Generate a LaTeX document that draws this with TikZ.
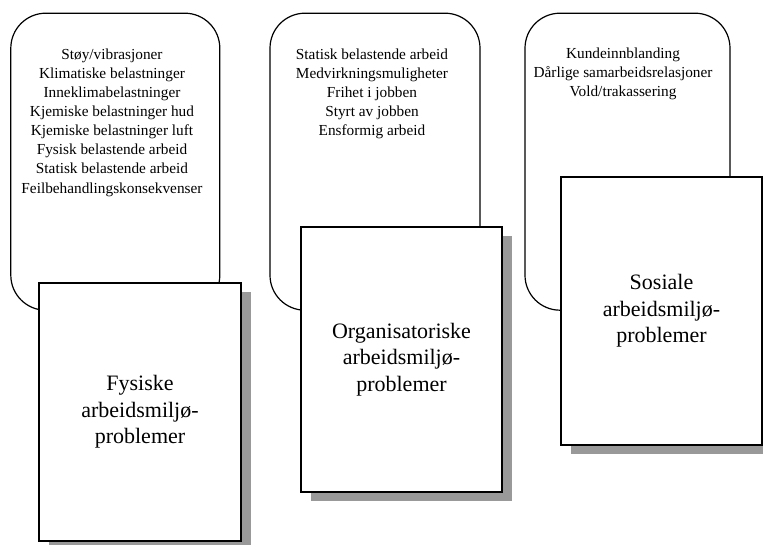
\documentclass[tikz,border=0pt]{standalone}
\usepackage{fontspec}
\setmainfont{Liberation Serif}
\usetikzlibrary{shadows}
\definecolor{shadowgray}{RGB}{153,153,153}
\begin{document}
\begin{tikzpicture}[x=1pt,y=-1pt,
  topicbox/.style={draw, line width=1.2pt, rounded corners=35pt, inner sep=0pt},
  factlist/.style={anchor=north, align=center, inner sep=0pt,
    font=\fontsize{15.3}{19.1}\selectfont},
  mainbox/.style={draw, line width=1.8pt, fill=white, align=center, inner sep=0pt,
    font=\fontsize{22}{26.5}\selectfont,
    drop shadow={shadow xshift=10pt, shadow yshift=-9pt, fill=shadowgray, opacity=1}}]
\useasboundingbox (0,0) rectangle (763,545);

% rounded boxes holding the factor lists
\node[topicbox, minimum width=209pt, minimum height=297pt] (fbox) at (115.3,161.7) {};
\node[topicbox, minimum width=210pt, minimum height=297pt] (obox) at (375,161.7) {};
\node[topicbox, minimum width=205pt, minimum height=297pt] (sbox) at (627.5,161.7) {};

\node[factlist] (flist) at (112,48.5) {Støy/vibrasjoner\\ Klimatiske belastninger\\ Inneklimabelastninger\\
  Kjemiske belastninger hud\\ Kjemiske belastninger luft\\ Fysisk belastende arbeid\\
  Statisk belastende arbeid\\ Feilbehandlingskonsekvenser};
\node[factlist] (olist) at (372,48.5) {Statisk belastende arbeid\\ Medvirkningsmuligheter\\
  Frihet i jobben\\ Styrt av jobben\\ Ensformig arbeid};
\node[factlist] (slist) at (623,47.5) {Kundeinnblanding\\ Dårlige samarbeidsrelasjoner\\ Vold/trakassering};

% main category boxes with drop shadows
\node[mainbox, minimum width=202pt, minimum height=258pt] (fys) at (140,412)
  {Fysiske\\ arbeidsmiljø-\\ problemer};
\node[mainbox, minimum width=201pt, minimum height=265pt] (org) at (401.5,359.5)
  {Organisatoriske\\ arbeidsmiljø-\\ problemer};
\node[mainbox, minimum width=201pt, minimum height=268pt] (sos) at (661.5,311)
  {Sosiale\\ arbeidsmiljø-\\ problemer};
\end{tikzpicture}
\end{document}
